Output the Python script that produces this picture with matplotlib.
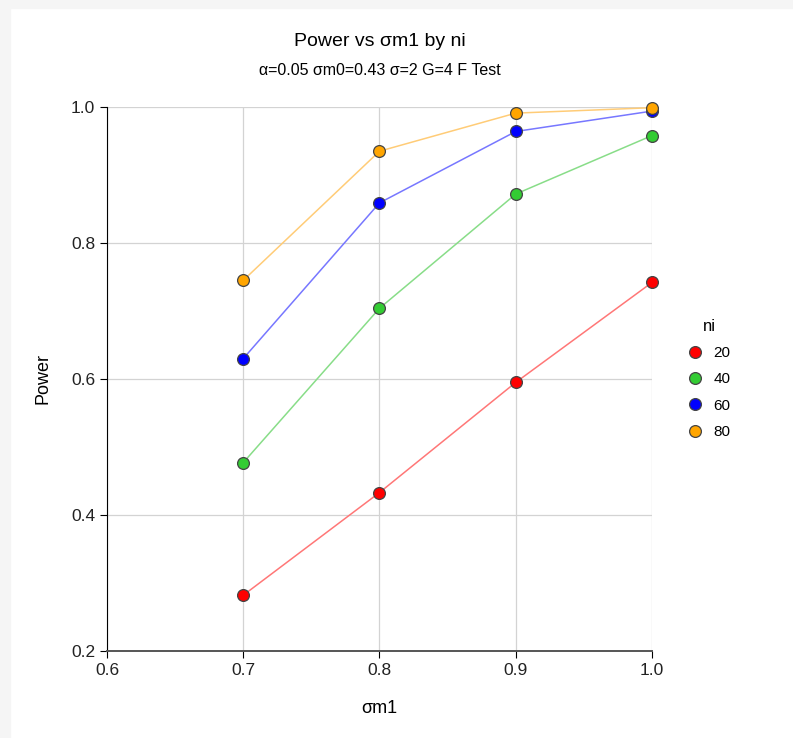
import matplotlib.pyplot as plt
from matplotlib.patches import Rectangle

plt.rcParams['font.family'] = ['Liberation Sans', 'DejaVu Sans']

# Power values
sigma_m1 = [0.7, 0.8, 0.9, 1.0]
ni_levels = ["20", "40", "60", "80"]
power_20 = [0.282, 0.433, 0.595, 0.742]
power_40 = [0.477, 0.704, 0.872, 0.958]
power_60 = [0.630, 0.859, 0.964, 0.994]
power_80 = [0.745, 0.935, 0.991, 0.999]

series = [power_20, power_40, power_60, power_80]
marker_colors = ["#ff0000", "#33cc33", "#0000ff", "#ffa500"]
line_colors = ["#ff7777", "#88dd88", "#7777ff", "#ffcc77"]

fig = plt.figure(figsize=(7.93, 7.38), dpi=100)

# light grey border strips at top and left
fig.patches.append(Rectangle((0, 0.989), 1, 0.011, transform=fig.transFigure,
                             color="#f5f5f5", zorder=0))
fig.patches.append(Rectangle((0, 0), 0.0126, 1, transform=fig.transFigure,
                             color="#f5f5f5", zorder=0))

ax = fig.add_axes([0.1349, 0.1179, 0.6873, 0.7371])

for vals, mc, lc, lab in zip(series, marker_colors, line_colors, ni_levels):
    ax.plot(sigma_m1, vals, color=lc, linewidth=1.1, zorder=3)
    ax.plot(sigma_m1, vals, linestyle="none", marker="o", markersize=8.5,
            markerfacecolor=mc, markeredgecolor="#444444", markeredgewidth=0.9,
            label=lab, zorder=4, clip_on=False)

ax.set_xlim(0.6, 1.0)
ax.set_ylim(0.2, 1.0)
ax.set_xticks([0.6, 0.7, 0.8, 0.9, 1.0])
ax.set_yticks([0.2, 0.4, 0.6, 0.8, 1.0])
ax.set_xticklabels(["0.6", "0.7", "0.8", "0.9", "1.0"])
ax.set_yticklabels(["0.2", "0.4", "0.6", "0.8", "1.0"])
ax.grid(True, color="#d3d3d3", linewidth=0.9, zorder=0)
ax.set_axisbelow(True)

for side in ["top", "right"]:
    ax.spines[side].set_visible(False)
ax.spines["left"].set_color("black")
ax.spines["bottom"].set_color("#555555")
ax.spines["bottom"].set_linewidth(1.4)
ax.tick_params(axis="both", labelsize=12.5, length=5, color="black", labelcolor="#222222")

ax.set_xlabel("σm1", fontsize=13, labelpad=16)
ax.set_ylabel("Power", fontsize=13, labelpad=14)

fig.text(0.479, 0.944, "Power vs σm1 by ni", ha="center", va="center", fontsize=14)
fig.text(0.479, 0.905, "α=0.05 σm0=0.43 σ=2 G=4 F Test", ha="center", va="center",
         fontsize=11.5)

leg = ax.legend(title="ni", loc="center left", bbox_to_anchor=(1.054, 0.5),
                frameon=False, fontsize=11, title_fontsize=12,
                handlelength=1.0, handletextpad=0.7, labelspacing=0.8,
                borderaxespad=0)

plt.savefig("out.png", dpi=100)
